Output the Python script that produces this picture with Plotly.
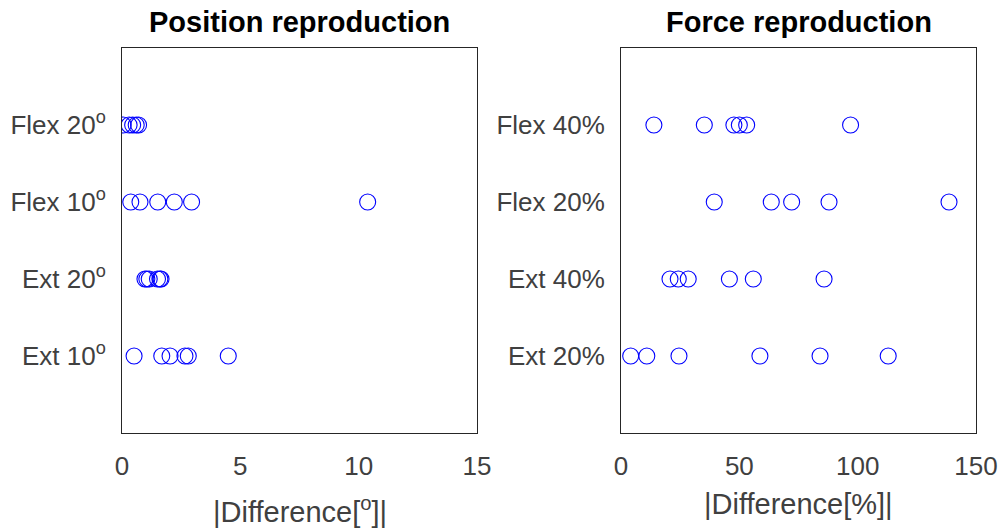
import plotly.graph_objects as go

# Categories (bottom to top)
pos_cats = ["Ext 10<sup>o</sup>", "Ext 20<sup>o</sup>", "Flex 10<sup>o</sup>", "Flex 20<sup>o</sup>"]
force_cats = ["Ext 20%", "Ext 40%", "Flex 20%", "Flex 40%"]

# Position reproduction |difference| (degrees)
pos_ext10 = [0.51, 1.68, 2.03, 2.66, 2.8, 4.49]
pos_ext20 = [0.97, 1.05, 1.15, 1.5, 1.6, 1.65]
pos_flex10 = [0.37, 0.76, 1.51, 2.21, 2.94, 10.38]
pos_flex20 = [0.05, 0.3, 0.45, 0.6, 0.7]

# Force reproduction |difference| (%)
force_ext20 = [4.1, 10.9, 24.5, 58.7, 84.1, 112.9]
force_ext40 = [20.7, 24.2, 28.4, 45.8, 55.9, 85.8]
force_flex20 = [39.4, 63.5, 72.1, 87.9, 138.6]
force_flex40 = [13.9, 35.2, 47.7, 50.0, 53.1, 97.0]

FONT = "Liberation Sans, Arial, sans-serif"
marker = dict(symbol="circle-open", size=16, color="rgb(0,0,255)", line=dict(width=1.1, color="rgb(0,0,255)"))

fig = go.Figure()
for i, vals in enumerate([pos_ext10, pos_ext20, pos_flex10, pos_flex20]):
    fig.add_trace(go.Scatter(x=vals, y=[i + 1] * len(vals), mode="markers", marker=marker,
                             xaxis="x", yaxis="y", showlegend=False))
for i, vals in enumerate([force_ext20, force_ext40, force_flex20, force_flex40]):
    fig.add_trace(go.Scatter(x=vals, y=[i + 1] * len(vals), mode="markers", marker=marker,
                             xaxis="x2", yaxis="y2", showlegend=False))

W, H = 1003, 530


def px(x):
    return x / W


def py(y):
    return 1 - y / H


ydom = [py(433), py(48)]
axis_common = dict(showline=True, linecolor="#262626", linewidth=1, mirror=True, showgrid=False,
                   zeroline=False, ticks="", automargin=False,
                   tickfont=dict(family=FONT, size=26, color="#404040"))

fig.update_layout(
    width=W, height=H, margin=dict(l=0, r=0, t=0, b=0, autoexpand=False),
    plot_bgcolor="white", paper_bgcolor="white",
    xaxis=dict(domain=[px(122), px(477)], range=[0, 15], tickvals=[0, 5, 10, 15],
               anchor="y", ticklabelstandoff=10, **axis_common),
    yaxis=dict(domain=ydom, range=[0, 5], tickvals=[1, 2, 3, 4], ticktext=pos_cats,
               anchor="x", ticklabelstandoff=10, **axis_common),
    xaxis2=dict(domain=[px(621), px(976)], range=[0, 150], tickvals=[0, 50, 100, 150],
                anchor="y2", ticklabelstandoff=10, **axis_common),
    yaxis2=dict(domain=ydom, range=[0, 5], tickvals=[1, 2, 3, 4], ticktext=force_cats,
                anchor="x2", ticklabelstandoff=10, **axis_common),
    annotations=[
        dict(text="<b>Position reproduction</b>", x=px((122 + 477) / 2), y=py(22), xref="paper", yref="paper",
             showarrow=False, font=dict(family=FONT, size=29, color="black"), xanchor="center", yanchor="middle"),
        dict(text="<b>Force reproduction</b>", x=px((621 + 976) / 2), y=py(22), xref="paper", yref="paper",
             showarrow=False, font=dict(family=FONT, size=29, color="black"), xanchor="center", yanchor="middle"),
        dict(text="|Difference[<sup>o</sup>]|", x=px((122 + 477) / 2), y=py(510), xref="paper", yref="paper",
             showarrow=False, font=dict(family=FONT, size=29, color="#404040"), xanchor="center", yanchor="middle"),
        dict(text="|Difference[%]|", x=px((621 + 976) / 2), y=py(504), xref="paper", yref="paper",
             showarrow=False, font=dict(family=FONT, size=29, color="#404040"), xanchor="center", yanchor="middle"),
    ],
)

fig.write_html("out.html", config={"displayModeBar": False},
               post_script="document.body.style.margin='0';document.body.style.overflow='hidden';")
